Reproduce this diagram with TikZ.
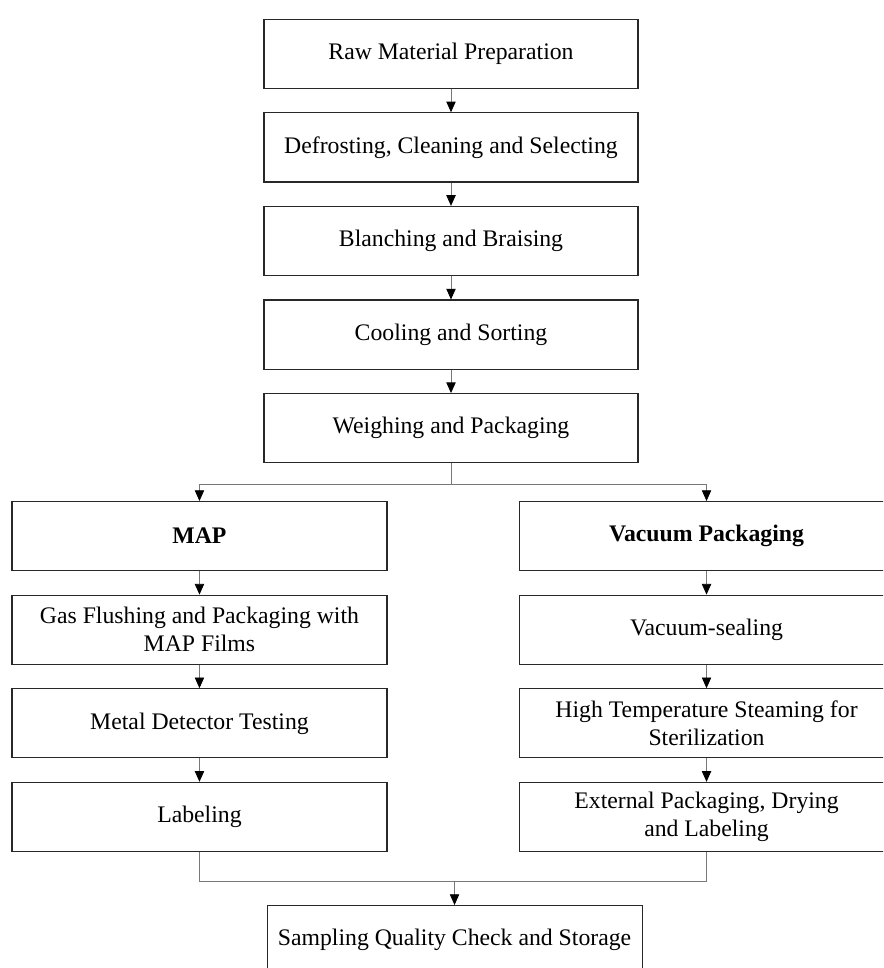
\documentclass[tikz,border=0pt]{standalone}
\usepackage{fontspec}
\setmainfont{Liberation Serif}
\usepackage{tikz}
\usetikzlibrary{positioning}
\usetikzlibrary{arrows.meta}
\definecolor{boxline}{RGB}{40,40,40}
\definecolor{linkline}{RGB}{120,120,120}

\tikzset{
  stepbox/.style={draw=boxline, line width=0.8pt, rectangle, minimum width=280.5pt,
    minimum height=51.9pt, align=center, inner sep=2pt,
    font=\fontsize{17.8}{21}\selectfont},
  sidebox/.style={stepbox, minimum width=281.25pt},
  link/.style={draw=linkline, line width=0.6pt},
  flow/.style={link, -{Triangle[length=8pt,width=7pt,color=black]}}
}

\begin{document}
\begin{tikzpicture}
        \useasboundingbox (0,0) rectangle (662.25pt,-726pt);
        \clip (0,0) rectangle (662.25pt,-726pt);
        % nodes %
        \node[stepbox] (raw) at (338.25pt,-40.35pt) {Raw Material Preparation};
        \node[stepbox, below=17.5pt of raw] (defrost) {Defrosting, Cleaning and Selecting};
        \node[stepbox, below=17.5pt of defrost] (blanch) {Blanching and Braising};
        \node[stepbox, below=17.5pt of blanch] (cool) {Cooling and Sorting};
        \node[stepbox, below=17.5pt of cool] (weigh) {Weighing and Packaging};
        % left branch %
        \node[sidebox, anchor=north] (map) at (149.6pt,-375.75pt) {\textbf{MAP}};
        \node[sidebox, below=17.5pt of map] (gas) {Gas Flushing and Packaging with\\MAP Films};
        \node[sidebox, below=17.5pt of gas] (metal) {Metal Detector Testing};
        \node[sidebox, below=17.5pt of metal] (label) {Labeling};
        % right branch %
        \node[sidebox, right=98.25pt of map] (vac) {\textbf{Vacuum Packaging}};
        \node[sidebox, below=17.5pt of vac] (seal) {Vacuum-sealing};
        \node[sidebox, below=17.5pt of seal] (steam) {High Temperature Steaming for\\Sterilization};
        \node[sidebox, below=17.5pt of steam] (ext) {External Packaging, Drying\\and Labeling};
        % end %
        \node[sidebox, anchor=north] (sample) at (340.9pt,-678.75pt) {Sampling Quality Check and Storage};
        % edges %
        \draw[flow] (raw) -- (defrost);
        \draw[flow] (defrost) -- (blanch);
        \draw[flow] (blanch) -- (cool);
        \draw[flow] (cool) -- (weigh);
        \draw[link] (weigh.south) -- ++(0,-15.75pt) coordinate (split);
        \draw[flow] (split) -| (map.north);
        \draw[flow] (split) -| (vac.north);
        \draw[flow] (map) -- (gas);
        \draw[flow] (gas) -- (metal);
        \draw[flow] (metal) -- (label);
        \draw[flow] (vac) -- (seal);
        \draw[flow] (seal) -- (steam);
        \draw[flow] (steam) -- (ext);
        \coordinate (merge) at (sample.north |- 0,-660.75pt);
        \draw[link] (label.south) |- (merge) -| (ext.south);
        \draw[flow] (merge) -- (sample.north);
\end{tikzpicture}
\end{document}
